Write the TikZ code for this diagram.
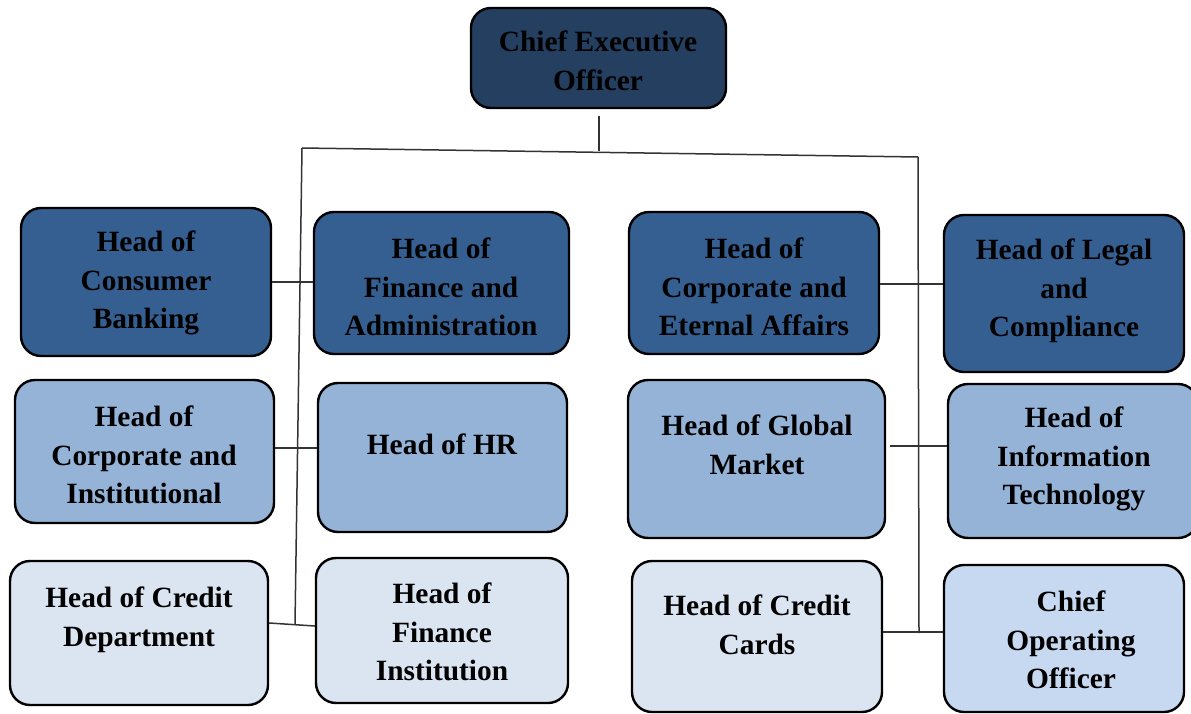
\documentclass[tikz,border=0pt]{standalone}
\usepackage{fontspec}
\setmainfont{Liberation Serif}
\definecolor{navy}{HTML}{243F60}
\definecolor{rowA}{HTML}{365F91}
\definecolor{rowB}{HTML}{95B3D7}
\definecolor{rowC}{HTML}{DBE5F1}
\definecolor{cooC}{HTML}{C6D9F1}
\definecolor{wire}{HTML}{333333}
\tikzset{
  unit/.style={draw=black, line width=2.4pt, rounded corners=20pt, inner sep=0pt},
  lbl/.style={align=center, text=black, inner sep=0pt,
    font=\fontsize{29.4}{38.5}\selectfont\bfseries},
  wireline/.style={draw=wire, line width=1.5pt},
}
% box: name, fill, left, top, right, bottom
\newcommand{\orgbox}[6]{%
  \node[unit, fill=#2, minimum width=#5-#3, minimum height=#6-#4]
    (#1) at ({(#3+#5)/2},{(#4+#6)/2}) {};}
\begin{document}
\begin{tikzpicture}[x=1pt,y=-1pt]
\useasboundingbox (0,0) rectangle (1191,714);

% connector lines
\coordinate (stem) at (599,116);
\coordinate (busM) at (599,151.5);
\coordinate (busL) at (302,148);
\coordinate (busR) at (918,157);
\coordinate (endL) at (295,624);
\coordinate (endR) at (919,633);

\draw[wireline] (stem) -- (busM);
\draw[wireline] (busL) -- (busR);
\draw[wireline] (busL) -- (endL);
\draw[wireline] (busR) -- (endR);

% boxes
\orgbox{ceo}{navy}{471}{8}{726}{108}

\orgbox{cons}{rowA}{21}{208}{271}{356}
\orgbox{fina}{rowA}{314}{212}{569}{354}
\orgbox{corp}{rowA}{629}{212}{879}{354}
\orgbox{legal}{rowA}{944}{215}{1184}{372}

\orgbox{inst}{rowB}{15}{380}{274}{523}
\orgbox{hr}{rowB}{318}{383}{567}{532}
\orgbox{glob}{rowB}{628}{380}{885}{538}
\orgbox{it}{rowB}{948}{384}{1198}{538}

\orgbox{cred}{rowC}{10}{561}{268}{705}
\orgbox{finst}{rowC}{316}{558}{568}{703}
\orgbox{cards}{rowC}{632}{561}{882}{712}
\orgbox{coo}{cooC}{944}{565}{1184}{712}

% side links between paired boxes
\draw[wireline] (cons.east |- 0,282) -- (fina.west |- 0,282);
\draw[wireline] (corp.east |- 0,284) -- (legal.west |- 0,284);
\draw[wireline] (inst.east |- 0,448) -- (hr.west |- 0,448);
\draw[wireline] (glob.east |- 0,446) ++(4,0) -- (it.west |- 0,446);
\draw[wireline] (cred.east |- 0,623) -- (finst.west |- 0,626);
\draw[wireline] (cards.east |- 0,632) -- (coo.west |- 0,632);

% labels
\node[lbl] (tceo) at (598,61) {Chief Executive\\Officer};
\node[lbl] (tcons) at (146,283) {Head of\\Consumer\\Banking};
\node[lbl] (tfina) at (441,287) {Head of\\Finance and\\Administration};
\node[lbl] (tcorp) at (754,287) {Head of\\Corporate and\\Eternal Affairs};
\node[lbl] (tlegal) at (1064,291) {Head of Legal\\and\\Compliance};
\node[lbl] (tinst) at (144,455) {Head of\\Corporate and\\Institutional};
\node[lbl] (thr) at (442,444) {Head of HR};
\node[lbl] (tglob) at (757,445) {Head of Global\\Market};
\node[lbl] (tit) at (1074,459) {Head of\\Information\\Technology};
\node[lbl] (tcred) at (139,620) {Head of Credit\\Department};
\node[lbl] (tfinst) at (442,632) {Head of\\Finance\\Institution};
\node[lbl] (tcards) at (757,625) {Head of Credit\\Cards};
\node[lbl] (tcoo) at (1071,640) {Chief\\Operating\\Officer};
\end{tikzpicture}
\end{document}
